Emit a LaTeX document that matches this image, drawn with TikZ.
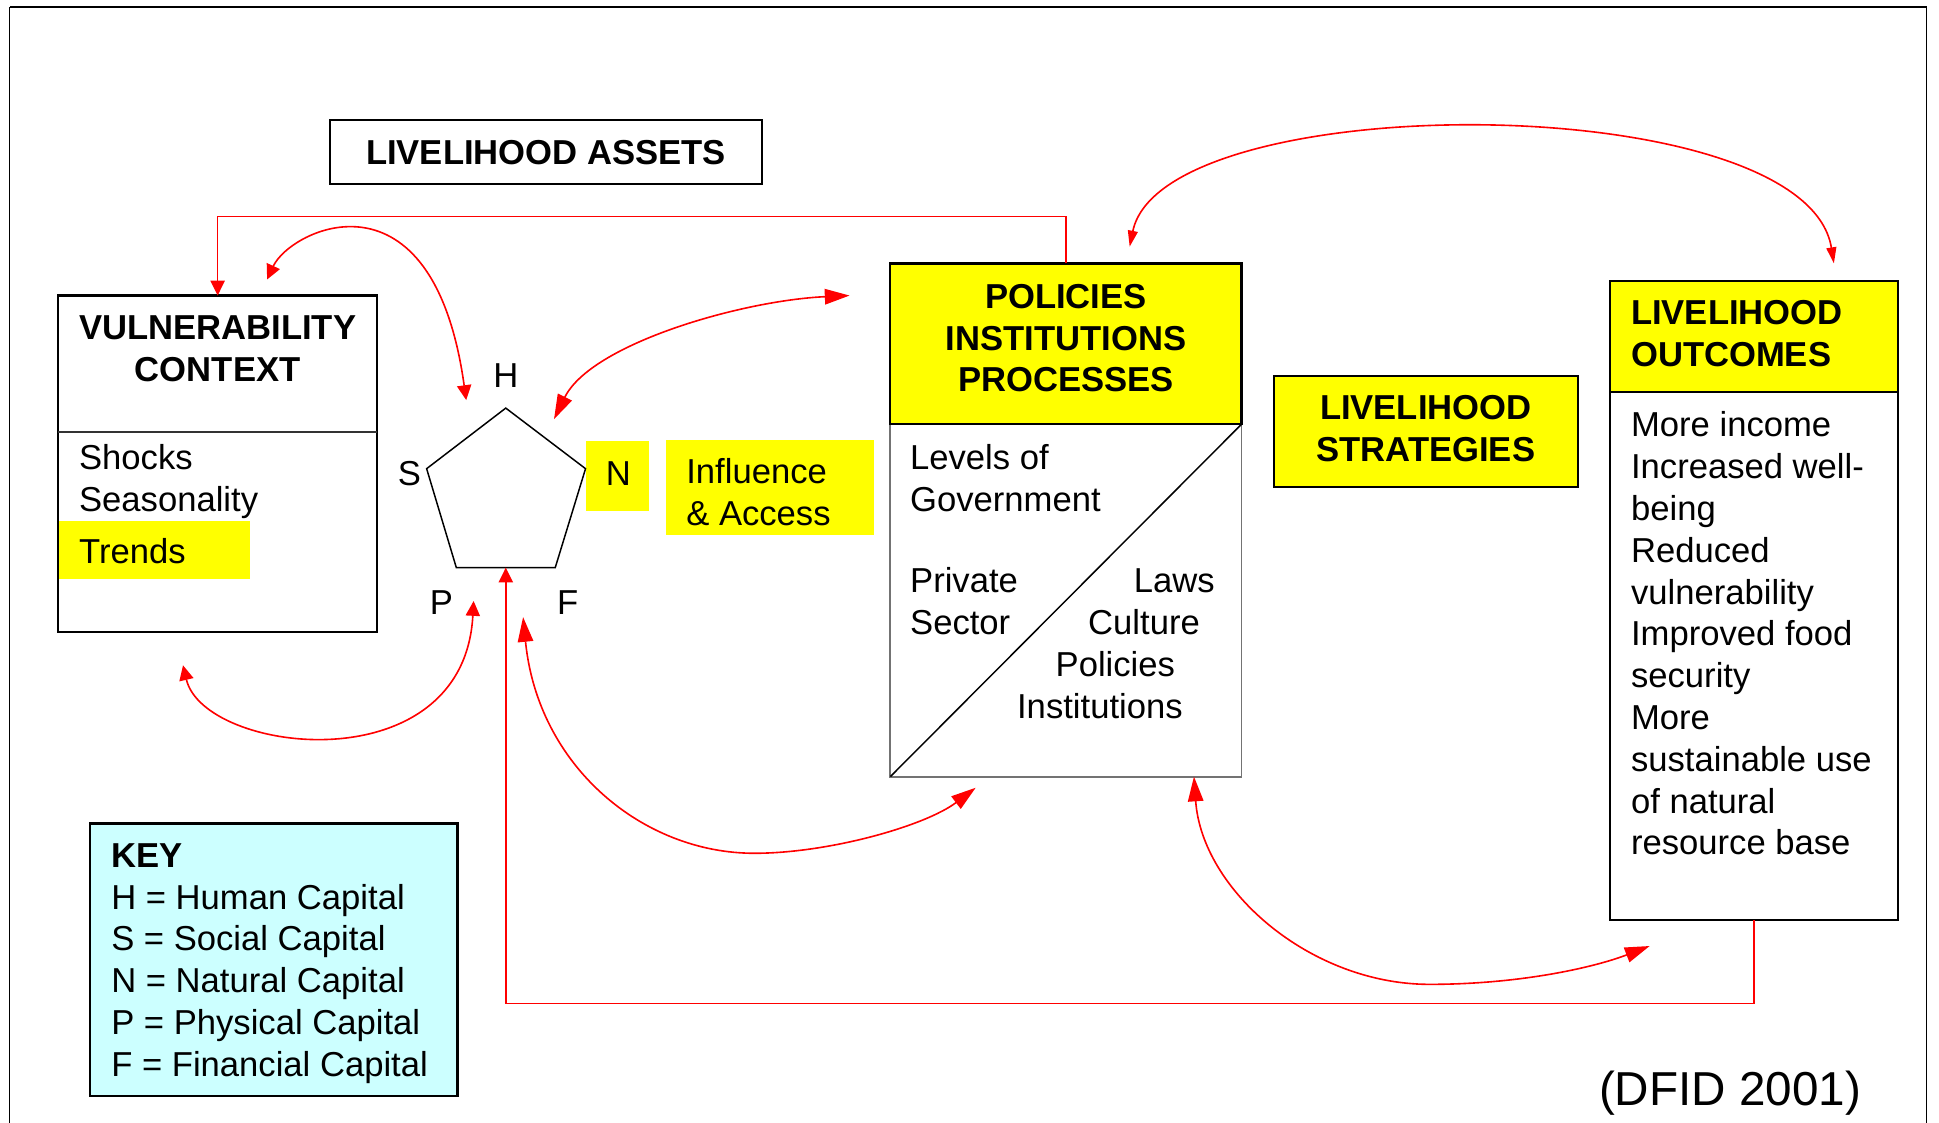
\documentclass[tikz,border=0pt]{standalone}
\usepackage{fontspec}
\setmainfont{Liberation Sans}
\usetikzlibrary{arrows.meta}
\definecolor{yel}{RGB}{255,255,0}
\definecolor{keycyan}{RGB}{204,255,255}
\definecolor{ared}{RGB}{255,0,0}
\begin{document}
\begin{tikzpicture}[x=1pt,y=-1pt,
  every node/.style={inner sep=0pt, outer sep=0pt},
  txt/.style={font=\fontsize{28}{34}\selectfont},
  ltxt/.style={font=\fontsize{28}{33.8}\selectfont},
  btxt/.style={font=\fontsize{28}{34}\selectfont\bfseries},
  bbox/.style={draw=black, line width=1.8pt},
  ybg/.style={fill=yel},
  rline/.style={draw=ared, line width=1.3pt},
  arr/.style={-{Triangle[length=12pt,width=11.5pt]}},
  arrs/.style={{Triangle[length=12pt,width=11.5pt]}-{Triangle[length=12pt,width=11.5pt]}},
  arrl/.style={{Triangle[length=20pt,width=12.5pt]}-{Triangle[length=20pt,width=12.5pt]}},
  arrn/.style={{Triangle[length=13pt,width=8pt]}-{Triangle[length=13pt,width=8pt]}},
  letter/.style={font=\fontsize{28}{34}\selectfont}
]
\useasboundingbox (0,0) rectangle (1568,908);
\fill[white] (0,0) rectangle (1568,908);

% frame
\draw[line width=0.8pt] (8,908) -- (8,6);
\draw[line width=0.8pt] (1558,6) -- (1558,908);
\draw[line width=1.6pt] (8,6) -- (1558,6);

% livelihood assets
\node[bbox, minimum width=349pt, minimum height=52pt, btxt] (la) at (441.5,123) {LIVELIHOOD ASSETS};

% vulnerability context
\node[bbox, minimum width=258pt, minimum height=272pt, anchor=north west] (vc) at (47,239) {};
\node[ybg, minimum width=154pt, minimum height=47pt, anchor=north west] (trendsbg) at (48,421) {};
\draw[line width=1.5pt, black!80] (vc.west |- 0,349) coordinate (vcdl) -- (vc.east |- 0,349) coordinate (vcdr);
\node[btxt, align=center, anchor=north] (vctitle) at (176,255) {VULNERABILITY\\CONTEXT};
\node[txt, align=left, anchor=north west] (vcitems) at (64,359) {Shocks\\Seasonality};
\node[txt, anchor=west] (trends) at (64,446) {Trends};

% pentagon
\coordinate (pT) at (409,330);
\coordinate (pL) at (345,379);
\coordinate (pR) at (473.5,379);
\coordinate (pBL) at (369,459);
\coordinate (pBR) at (449,459);
\coordinate (pB) at (409,459);
\node[ybg, minimum width=51pt, minimum height=57pt] (nbg) at (499.5,385) {};
\draw[line width=1.2pt] (pT) -- (pR) -- (pBR) -- (pBL) -- (pL) -- cycle;
\node[letter] (lH) at (409,304) {H};
\node[letter] (lS) at (331,383) {S};
\node[letter] (lN) at (500,383) {N};
\node[letter] (lP) at (357,487) {P};
\node[letter] (lF) at (459,487) {F};

% influence & access
\node[ybg, minimum width=168.5pt, minimum height=77pt, anchor=north west] (infl) at (538.5,356) {};
\node[txt, align=left, anchor=north west] (infltxt) at (555,371) {Influence\\\& Access};

% policies institutions processes
\node[draw=black!55, line width=1.5pt, minimum width=284pt, minimum height=285pt, anchor=north west] (pipB) at (720,343) {};
\draw[line width=1.2pt] (pipB.south west) -- (pipB.north east);
\node[bbox, ybg, minimum width=284pt, minimum height=130pt, anchor=north west] (pipH) at (720,213) {};
\node[font=\fontsize{28}{33.5}\selectfont\bfseries, align=center, anchor=north] (piptitle) at (862,230) {POLICIES\\INSTITUTIONS\\PROCESSES};
\node[txt, align=left, anchor=north west] (pipgov) at (736,359) {Levels of\\Government};
\node[txt, align=left, anchor=north west] (pippriv) at (736,459) {Private\\Sector};
\node[txt, anchor=north west] (pipL) at (917,459.5) {Laws};
\node[txt, anchor=north west] (pipC) at (880,493) {Culture};
\node[txt, anchor=north west] (pipP) at (853.7,527) {Policies};
\node[txt, anchor=north west] (pipI) at (822.5,560.5) {Institutions};

% livelihood strategies
\node[bbox, ybg, minimum width=246pt, minimum height=90pt, anchor=north west] (ls) at (1030,304) {};
\node[btxt, align=center, anchor=north] (lstxt) at (1153,320) {LIVELIHOOD\\STRATEGIES};

% livelihood outcomes
\node[bbox, minimum width=233pt, minimum height=517pt, anchor=north west] (lo) at (1302,227) {};
\node[bbox, ybg, minimum width=233pt, minimum height=90pt, anchor=north west] (loH) at (1302,227) {};
\node[btxt, align=left, anchor=north west] (lotitle) at (1319,243) {LIVELIHOOD\\OUTCOMES};
\node[ltxt, align=left, anchor=north west] (loitems) at (1319,333) {More income\\Increased well-\\being\\Reduced\\vulnerability\\Improved food\\security\\More\\sustainable use\\of natural\\resource base};

% key
\node[bbox, fill=keycyan, minimum width=297pt, minimum height=220pt, anchor=north west] (key) at (73,666) {};
\node[ltxt, align=left, anchor=north west] (keytxt) at (90,682) {\textbf{KEY}\\H = Human Capital\\S = Social Capital\\N = Natural Capital\\P = Physical Capital\\F = Financial Capital};

% source
\node[font=\fontsize{38.5}{46}\selectfont, anchor=base] (src) at (1399,894) {(DFID 2001)};

% red connectors (orthogonal)
\draw[rline, arr] (pipH.north) -- ++(0,-38) -| (vc.north);
\draw[rline, arr] (lo.south) -- ++(0,67.5) -| (pB);

% curved connectors
\coordinate (c2a) at (216,226);
\coordinate (c2b) at (377,323.5);
\draw[rline, arrs] (c2a) .. controls (235,185) and (350,130) .. (c2b);

\coordinate (c3a) at (448,339);
\coordinate (c3b) at (687,239);
\draw[rline, arrl] (c3a) .. controls (478,278) and (600,243) .. (c3b);

\coordinate (c4a) at (148,538);
\coordinate (c4b) at (383,486);
\draw[rline, arrs] (c4a) .. controls (165,610) and (375,635) .. (c4b);

\coordinate (c5a) at (423,499);
\coordinate (c5m) at (610,690);
\coordinate (c5b) at (789,637);
\draw[rline, arrl] (c5a) .. controls (435,620) and (520,690) .. (c5m) .. controls (670,690) and (748,668) .. (c5b);

\coordinate (c6a) at (965.5,628);
\coordinate (c6m) at (1156,796);
\coordinate (c6b) at (1334,765);
\draw[rline, arrl] (c6a) .. controls (972,720) and (1060,796) .. (c6m) .. controls (1230,796) and (1290,782) .. (c6b);

\coordinate (c7a) at (913.5,199.5);
\coordinate (c7b) at (1483,213);
\draw[rline, arrn] (c7a) .. controls (940,70) and (1460,70) .. (c7b);
\end{tikzpicture}
\end{document}
